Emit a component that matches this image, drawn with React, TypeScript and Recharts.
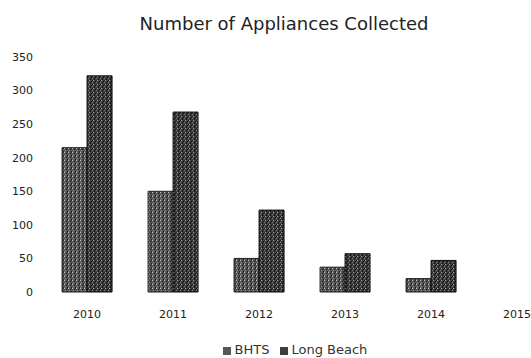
import React from 'react';
import { BarChart, Bar, XAxis, YAxis, Legend } from 'recharts';

const years = ['2010', '2011', '2012', '2013', '2014', '2015'];
const bhts = [215, 150, 50, 37, 20, null];
const longBeach = [322, 268, 122, 57, 47, null];
const yTicks = [0, 50, 100, 150, 200, 250, 300, 350];

const data = years.map((year, i) => ({ year, bhts: bhts[i], longBeach: longBeach[i] }));

const font = '"DejaVu Sans", sans-serif';

const App: React.FC = () => {
  return (
    <div style={{ position: 'fixed', left: 0, top: 0, width: 531, height: 358, overflow: 'hidden', background: '#fff' }}>
      <div
        style={{
          position: 'absolute',
          left: 0,
          top: 13,
          width: 568,
          textAlign: 'center',
          fontFamily: font,
          fontSize: 18,
          color: '#222',
        }}
      >
        Number of Appliances Collected
      </div>
      <BarChart
        width={580}
        height={358}
        data={data}
        margin={{ top: 57, right: 20, left: 0, bottom: 4 }}
        barCategoryGap="21%"
        barGap={0}
      >
        <defs>
          <pattern id="texA" width="4" height="4" patternUnits="userSpaceOnUse">
            <rect width="4" height="4" fill="#555" />
            <rect x="0" y="0" width="1" height="1" fill="#c4c4c4" />
            <rect x="2" y="1" width="1" height="1" fill="#1a1a1a" />
            <rect x="1" y="2" width="1" height="1" fill="#8f8f8f" />
            <rect x="3" y="3" width="1" height="1" fill="#222" />
            <rect x="3" y="0" width="1" height="1" fill="#2e2e2e" />
            <rect x="0" y="3" width="1" height="1" fill="#777" />
          </pattern>
          <pattern id="texB" width="4" height="4" patternUnits="userSpaceOnUse">
            <rect width="4" height="4" fill="#3e3e3e" />
            <rect x="1" y="0" width="1" height="1" fill="#a8a8a8" />
            <rect x="3" y="1" width="1" height="1" fill="#0e0e0e" />
            <rect x="0" y="2" width="1" height="1" fill="#7a7a7a" />
            <rect x="2" y="3" width="1" height="1" fill="#121212" />
            <rect x="2" y="2" width="1" height="1" fill="#1c1c1c" />
            <rect x="0" y="0" width="1" height="1" fill="#1f1f1f" />
          </pattern>
        </defs>
        <XAxis
          dataKey="year"
          axisLine={false}
          tickLine={false}
          tickMargin={12}
          height={47}
          tick={{ fontSize: 11, fill: '#222', fontFamily: font }}
        />
        <YAxis
          domain={[0, 350]}
          ticks={yTicks}
          width={44}
          axisLine={false}
          tickLine={false}
          tickMargin={5}
          tick={{ fontSize: 11, fill: '#222', fontFamily: font }}
        />
        <Legend
          verticalAlign="bottom"
          iconType="square"
          iconSize={8}
          wrapperStyle={{ fontFamily: font, fontSize: 13, left: 20, width: 560, bottom: 1 }}
          formatter={(value) => <span style={{ color: '#333' }}>{value}</span>}
        />
        <Bar dataKey="bhts" name="BHTS" fill="url(#texA)" stroke="#222" strokeWidth={1} isAnimationActive={false} legendType="square" />
        <Bar dataKey="longBeach" name="Long Beach" fill="url(#texB)" stroke="#0c0c0c" strokeWidth={1} isAnimationActive={false} legendType="square" />
      </BarChart>
    </div>
  );
};

export default App;
